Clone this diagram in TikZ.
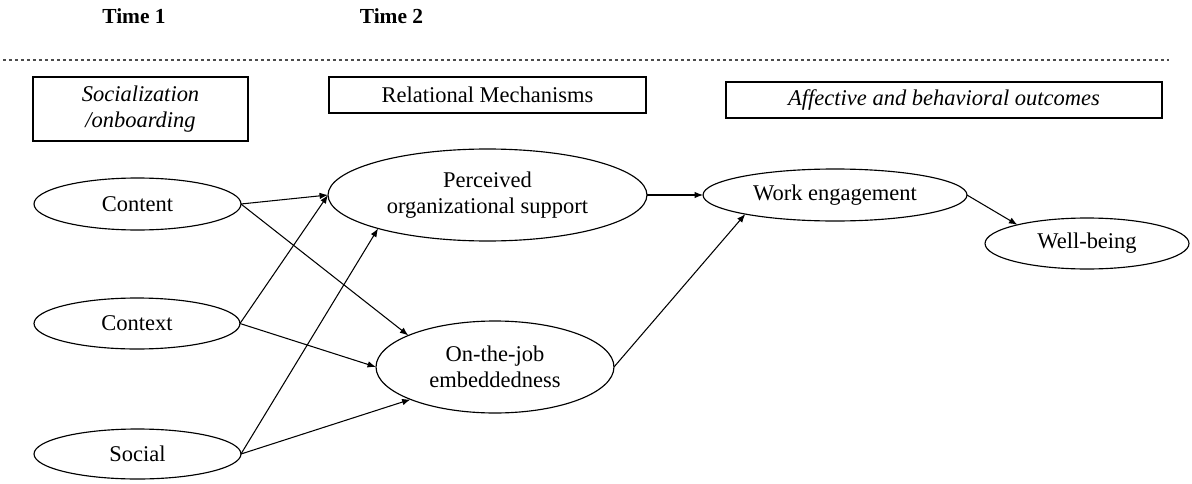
\documentclass[tikz,border=0pt]{standalone}
\usepackage{fontspec}
\setmainfont{Liberation Serif}
\usetikzlibrary{shapes.geometric,arrows.meta}
\begin{document}
\begin{tikzpicture}[x=0.02cm,y=-0.02cm,
  every node/.style={font=\fontsize{12.8}{14.8}\selectfont, align=center, outer sep=0pt, inner sep=0pt},
  oval/.style={ellipse, draw, line width=0.65pt},
  hbox/.style={rectangle, draw, line width=0.65pt},
  link/.style={line width=0.6pt, -{Latex[length=1.7mm,width=1.3mm]}},
  timelbl/.style={font=\fontsize{12.2}{14}\selectfont\bfseries},
  sepline/.style={line width=0.6pt, draw=black!70, dash pattern=on 0.07cm off 0.05cm}]
\useasboundingbox (0,0) rectangle (1192,483);

% time labels
\node[timelbl] (t1) at (134,16) {Time 1};
\node[timelbl] (t2) at (391.5,16) {Time 2};

% separator
\coordinate (sepL) at (3,60);
\coordinate (sepR) at (1169,60);
\draw[sepline] (sepL) -- (sepR);

% header boxes
\node[hbox, minimum width=4.3cm, minimum height=1.28cm] (soc) at (140.5,109) {\itshape Socialization\\\itshape /onboarding};
\node[hbox, minimum width=6.34cm, minimum height=0.72cm] (rel) at (487.5,95) {Relational Mechanisms};
\node[hbox, minimum width=8.72cm, minimum height=0.72cm] (aff) at (944,100) {\itshape Affective and behavioral outcomes};

% ellipses
\node[oval, minimum width=4.14cm, minimum height=1.04cm] (content) at (137.5,204) {Content};
\node[oval, minimum width=4.12cm, minimum height=1.02cm] (context) at (137,323.5) {Context};
\node[oval, minimum width=4.14cm, minimum height=1.0cm] (social) at (137.5,454) {Social};
\node[oval, minimum width=6.38cm, minimum height=1.84cm] (pos) at (487.5,195) {Perceived\\organizational support};
\node[oval, minimum width=4.76cm, minimum height=1.84cm] (oje) at (495,367) {On-the-job\\embeddedness};
\node[oval, minimum width=5.28cm, minimum height=1.04cm] (we) at (835,195) {Work engagement};
\node[oval, minimum width=4.08cm, minimum height=1.02cm] (wb) at (1087,243.5) {Well-being};

% connectors
\draw[link] (content.east) -- (pos.180);
\draw[link] (content.east) -- (oje.160);
\draw[link] (context.east) -- (pos.180);
\draw[link] (context.east) -- (oje.180);
\draw[link] (social.east) -- (pos.197.5);
\draw[link] (social.east) -- (oje.201.7);
\draw[link] (pos.east) -- (we.west);
\draw[link] (oje.east) -- (we.192.7);
\draw[link] (we.east) -- (wb.165.8);
\end{tikzpicture}
\end{document}
